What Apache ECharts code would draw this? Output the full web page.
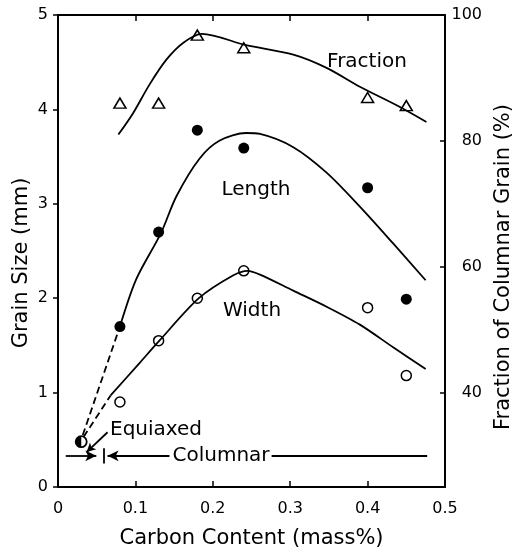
<!DOCTYPE html>
<html><head><meta charset="utf-8">
<script src="https://cdn.jsdelivr.net/npm/echarts@6/dist/echarts.min.js"></script>
<style>html,body{margin:0;padding:0;background:#fff}#c{width:519px;height:550px}</style>
</head><body><div id="c"></div>
<script>
// ---- data ----
const carbonPts   = [0.08, 0.13, 0.18, 0.24, 0.40, 0.45];
const fractionPct = [86.0, 86.0, 96.8, 94.8, 86.9, 85.6];
const lengthMm    = [1.70, 2.70, 3.78, 3.59, 3.17, 1.99];
const widthMm     = [0.90, 1.55, 2.00, 2.29, 1.90, 1.18];
const equiaxedPt  = [0.03, 0.48];

const fractionCurve = [[0.078,81.0],[0.097,84.4],[0.118,88.9],[0.140,92.9],[0.162,95.6],[0.186,97.0],[0.243,95.2],[0.304,93.7],[0.347,91.6],[0.390,88.6],[0.440,85.5],[0.476,83.0]];
const lengthCurve   = [[0.080,1.70],[0.101,2.20],[0.133,2.69],[0.153,3.08],[0.183,3.48],[0.209,3.67],[0.243,3.75],[0.261,3.74],[0.304,3.60],[0.347,3.33],[0.390,2.97],[0.433,2.58],[0.475,2.19]];
const lengthDashed  = [[0.032,0.55],[0.080,1.70]];
const widthCurve    = [[0.068,0.97],[0.105,1.31],[0.131,1.55],[0.182,2.00],[0.226,2.24],[0.245,2.29],[0.261,2.25],[0.304,2.08],[0.347,1.91],[0.390,1.72],[0.433,1.48],[0.475,1.25]];
const widthDashed   = [[0.033,0.53],[0.068,0.97]];

const eqArrowLine    = [[0.010,0.33],[0.0495,0.33]];
const colArrowLine   = [[0.144,0.33],[0.064,0.33]];
const colTailLine    = [[0.276,0.33],[0.477,0.33]];
const boundaryBar    = [[0.059,0.41],[0.059,0.25]];
const equiaxedPointer= [[0.064,0.58],[0.037,0.37]];

const xTicks = [0, 0.1, 0.2, 0.3, 0.4, 0.5];
const leftTicks = [0, 1, 2, 3, 4, 5];
const rightTicks = [40, 60, 80, 100];

// ---- chart ----
const FONT = 'DejaVu Sans';
const chart = echarts.init(document.getElementById('c'), null, {renderer: 'canvas'});
const black = '#000';

const axisBase = {
  axisLine: {show: true, onZero: false, lineStyle: {color: black, width: 2}},
  splitLine: {show: false}
};
const lineStyleSolid = {color: black, width: 1.8};

chart.setOption({
  backgroundColor: '#fff',
  animation: false,
  grid: {left: 58, top: 15, width: 387, height: 472, containLabel: false, outerBoundsMode: 'none'},
  xAxis: [
    Object.assign({}, axisBase, {
      type: 'value', position: 'bottom', min: xTicks[0], max: xTicks[xTicks.length - 1], interval: 0.1,
      axisTick: {show: true, inside: true, length: 6, lineStyle: {color: black, width: 1.5}},
      axisLabel: {color: black, fontFamily: FONT, fontSize: 16, margin: 14, formatter: v => String(+v.toFixed(1))},
      name: 'Carbon Content (mass%)', nameLocation: 'middle', nameGap: 41,
      nameTextStyle: {color: black, fontFamily: FONT, fontSize: 21}
    }),
    Object.assign({}, axisBase, {
      type: 'value', position: 'top', min: xTicks[0], max: xTicks[xTicks.length - 1], interval: 0.1,
      axisTick: {show: true, inside: true, length: 6, lineStyle: {color: black, width: 1.5}},
      axisLabel: {show: false}
    })
  ],
  yAxis: [
    Object.assign({}, axisBase, {
      type: 'value', position: 'left', min: leftTicks[0], max: leftTicks[leftTicks.length - 1], interval: 1,
      axisTick: {show: true, inside: false, length: 5, lineStyle: {color: black, width: 1.5}},
      axisLabel: {color: black, fontFamily: FONT, fontSize: 16, margin: 10}
    }),
    Object.assign({}, axisBase, {
      type: 'value', position: 'right', min: 25, max: 100,
      axisTick: {show: true, inside: true, length: 5, customValues: rightTicks, lineStyle: {color: black, width: 1.5}},
      axisLabel: {color: black, fontFamily: FONT, fontSize: 16, margin: 37, align: 'right', customValues: rightTicks}
    })
  ],
  graphic: [
    {type: 'text', x: 22, y: 263, rotation: Math.PI/2, style: {text: 'Grain Size (mm)', fill: black, font: '21px "DejaVu Sans"', textAlign: 'center', textVerticalAlign: 'middle'}},
    {type: 'text', x: 504, y: 267, rotation: Math.PI/2, style: {text: 'Fraction of Columnar Grain (%)', fill: black, font: '21px "DejaVu Sans"', textAlign: 'center', textVerticalAlign: 'middle'}},
    {type: 'text', x: 367, y: 62, style: {text: 'Fraction', fill: black, font: '20px "DejaVu Sans"', textAlign: 'center', textVerticalAlign: 'middle'}},
    {type: 'text', x: 256, y: 190, style: {text: 'Length', fill: black, font: '20px "DejaVu Sans"', textAlign: 'center', textVerticalAlign: 'middle'}},
    {type: 'text', x: 252, y: 311, style: {text: 'Width', fill: black, font: '20px "DejaVu Sans"', textAlign: 'center', textVerticalAlign: 'middle'}},
    {type: 'text', x: 110, y: 430, style: {text: 'Equiaxed', fill: black, font: '20px "DejaVu Sans"', textAlign: 'left', textVerticalAlign: 'middle'}},
    {type: 'text', x: 221, y: 456, style: {text: 'Columnar', fill: black, font: '20px "DejaVu Sans"', textAlign: 'center', textVerticalAlign: 'middle'}}
  ],
  series: [
    {type: 'line', xAxisIndex: 0, yAxisIndex: 1, data: fractionCurve, smooth: 0.3, showSymbol: false, lineStyle: lineStyleSolid, silent: true},
    {type: 'line', xAxisIndex: 0, yAxisIndex: 0, data: lengthCurve, smooth: 0.3, showSymbol: false, lineStyle: lineStyleSolid, silent: true},
    {type: 'line', xAxisIndex: 0, yAxisIndex: 0, data: lengthDashed, showSymbol: false, lineStyle: {color: black, width: 1.8, type: [7, 4]}, silent: true},
    {type: 'line', xAxisIndex: 0, yAxisIndex: 0, data: widthDashed, showSymbol: false, lineStyle: {color: black, width: 1.8, type: [7, 4]}, silent: true},
    {type: 'line', xAxisIndex: 0, yAxisIndex: 0, data: widthCurve, smooth: 0.3, showSymbol: false, lineStyle: lineStyleSolid, silent: true,
      markLine: {
        silent: true, animation: false, label: {show: false},
        lineStyle: {color: black, width: 1.8, type: 'solid'},
        data: [
          [{symbol: 'none', coord: eqArrowLine[0]}, {symbol: 'arrow', symbolSize: [8, 11], coord: eqArrowLine[1]}],
          [{symbol: 'none', coord: colArrowLine[0]}, {symbol: 'arrow', symbolSize: [8, 11], coord: colArrowLine[1]}],
          [{symbol: 'none', coord: colTailLine[0]}, {symbol: 'none', coord: colTailLine[1]}],
          [{symbol: 'none', coord: boundaryBar[0]}, {symbol: 'none', coord: boundaryBar[1]}],
          [{symbol: 'none', coord: equiaxedPointer[0], lineStyle: {color: black, width: 1.8, curveness: 0.4}}, {symbol: 'arrow', symbolSize: [7, 9], coord: equiaxedPointer[1], lineStyle: {color: black, width: 1.8, curveness: 0.4}}]
        ]
      }
    },
    {type: 'scatter', xAxisIndex: 0, yAxisIndex: 1, data: carbonPts.map((x, i) => [x, fractionPct[i]]), symbol: 'triangle', symbolSize: [12, 10], itemStyle: {color: '#fff', borderColor: black, borderWidth: 1.5, opacity: 1}, silent: true},
    {type: 'scatter', xAxisIndex: 0, yAxisIndex: 0, data: carbonPts.map((x, i) => [x, lengthMm[i]]), symbol: 'circle', symbolSize: 11, itemStyle: {color: black, opacity: 1}, silent: true},
    {type: 'scatter', xAxisIndex: 0, yAxisIndex: 0, data: carbonPts.map((x, i) => [x, widthMm[i]]), symbol: 'circle', symbolSize: 10, itemStyle: {color: '#fff', borderColor: black, borderWidth: 1.5, opacity: 1}, silent: true},
    {type: 'scatter', xAxisIndex: 0, yAxisIndex: 0, data: [equiaxedPt], symbol: 'circle', symbolSize: 11, itemStyle: {color: '#fff', borderColor: black, borderWidth: 1.8, opacity: 1}, silent: true},
    {type: 'scatter', xAxisIndex: 0, yAxisIndex: 0, data: [equiaxedPt], symbol: 'path://M10,0 A10,10 0 0,0 10,20 Z', symbolSize: [5.5, 11], symbolOffset: [-2.75, 0], itemStyle: {color: black, opacity: 1}, silent: true}
  ]
});
</script></body></html>
